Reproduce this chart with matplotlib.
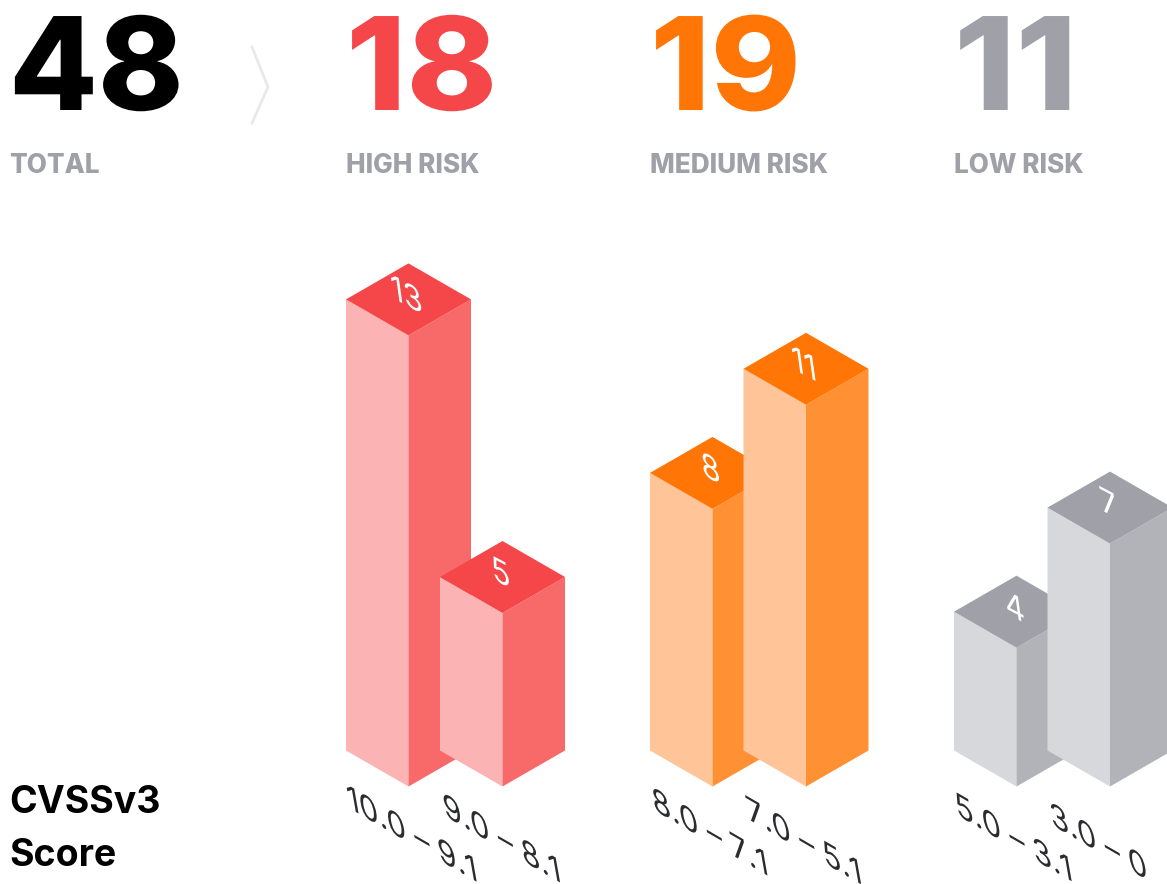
import numpy as np
from matplotlib import pyplot as plt
from matplotlib.patches import Polygon
from matplotlib.patheffects import AbstractPathEffect
from matplotlib.transforms import Affine2D

plt.rcParams['font.family'] = ['Inter', 'DejaVu Sans']

totals = [48, 18, 19, 11]
total_labels = ['TOTAL', 'HIGH RISK', 'MEDIUM RISK', 'LOW RISK']
total_colors = ['#000000', '#F5474A', '#FF7506', '#9FA0A8']
total_x = [9, 346, 650, 954]
# the 1 sets wide in these numerals
total_stretch = [1.0, 1.06, 1.06, 1.08]

score_ranges = ['10.0 – 9.1', '9.0 – 8.1', '8.0 – 7.1', '7.0 – 5.1', '5.0 – 3.1', '3.0 – 0']
counts = [13, 5, 8, 11, 4, 7]
bar_x = [408.5, 502.5, 712.5, 806, 1016.5, 1110]

# where each range label starts, on its baseline
range_x = [349, 445, 654, 748, 957, 1052]
range_y = [808, 816, 810, 819, 815, 825]

# top, side, front
red = ['#F5474A', '#F8696A', '#FBB3B4']
orange = ['#FF7506', '#FF9033', '#FFC497']
grey = ['#9FA0A8', '#B2B3B8', '#D7D8DB']
bar_colors = [red, red, orange, orange, grey, grey]

half_w = 62.5
half_d = 36
unit = 34.7
base_y = 786.5


class Lean(AbstractPathEffect):
    # rotated text stays on its baseline, this shears the stems back towards vertical
    def __init__(self, angle=30, lean=10):
        super().__init__()
        a = np.radians(angle)
        b = np.radians(lean)
        self.angle = angle
        self.m = np.array([[np.cos(a), -np.sin(b), 0],
                           [-np.sin(a), np.cos(b), 0],
                           [0, 0, 1]])

    def draw_path(self, renderer, gc, tpath, affine, rgbFace=None):
        x, y = affine.get_matrix()[:2, 2]
        t = (affine + Affine2D().translate(-x, -y) + Affine2D().rotate_deg(self.angle)
             + Affine2D(self.m) + Affine2D().translate(x, y))
        renderer.draw_path(gc, tpath, t, rgbFace)


class Stretch(AbstractPathEffect):
    def __init__(self, sx):
        super().__init__()
        self.sx = sx

    def draw_path(self, renderer, gc, tpath, affine, rgbFace=None):
        x, y = affine.get_matrix()[:2, 2]
        t = affine + Affine2D().translate(-x, -y).scale(self.sx, 1).translate(x, y)
        renderer.draw_path(gc, tpath, t, rgbFace)


def draw_bar(ax, cx, value, colors):
    h = value * unit
    y0 = base_y - h
    front = [(cx - half_w, y0 - half_d), (cx, y0), (cx, base_y), (cx - half_w, base_y - half_d)]
    side = [(cx, y0), (cx + half_w, y0 - half_d), (cx + half_w, base_y - half_d), (cx, base_y)]
    top = [(cx - half_w, y0 - half_d), (cx, y0 - 2 * half_d), (cx + half_w, y0 - half_d), (cx, y0)]
    ax.add_patch(Polygon(front, fc=colors[2], ec='none'))
    ax.add_patch(Polygon(side, fc=colors[1], ec='none'))
    ax.add_patch(Polygon(top, fc=colors[0], ec='none'))
    ax.text(cx + 4, y0 - 37, str(value), color='white', fontsize=25, rotation=-28,
            rotation_mode='anchor', ha='center', va='center', path_effects=[Lean(28, 8)])


fig = plt.figure(figsize=(11.67, 8.84), dpi=100)
ax = fig.add_axes([0, 0, 1, 1])
ax.set_xlim(0, 1167)
ax.set_ylim(884, 0)
ax.axis('off')

for x, n, label, c, sx in zip(total_x, totals, total_labels, total_colors, total_stretch):
    ax.text(x, 110, str(n), color=c, fontsize=93, fontweight='heavy', ha='left', va='baseline',
            path_effects=[Stretch(sx)])
    ax.text(x, 173, label, color='#9FA0A8', fontsize=18.8, fontweight='heavy', ha='left', va='baseline')

ax.plot([252, 268, 252], [47, 87, 123], color='#E9E9E9', lw=2)

for cx, v, colors, rng, lx, ly in zip(bar_x, counts, bar_colors, score_ranges, range_x, range_y):
    draw_bar(ax, cx, v, colors)
    ax.text(lx, ly, rng, color='#2B2C30', fontsize=25, rotation=-30, rotation_mode='anchor',
            ha='left', va='baseline', path_effects=[Lean(30, 10)])

ax.text(9, 813, 'CVSSv3', color='black', fontsize=27, fontweight='bold', ha='left', va='baseline')
ax.text(9, 866, 'Score', color='black', fontsize=27, fontweight='bold', ha='left', va='baseline')

plt.savefig('out.png', dpi=100)
